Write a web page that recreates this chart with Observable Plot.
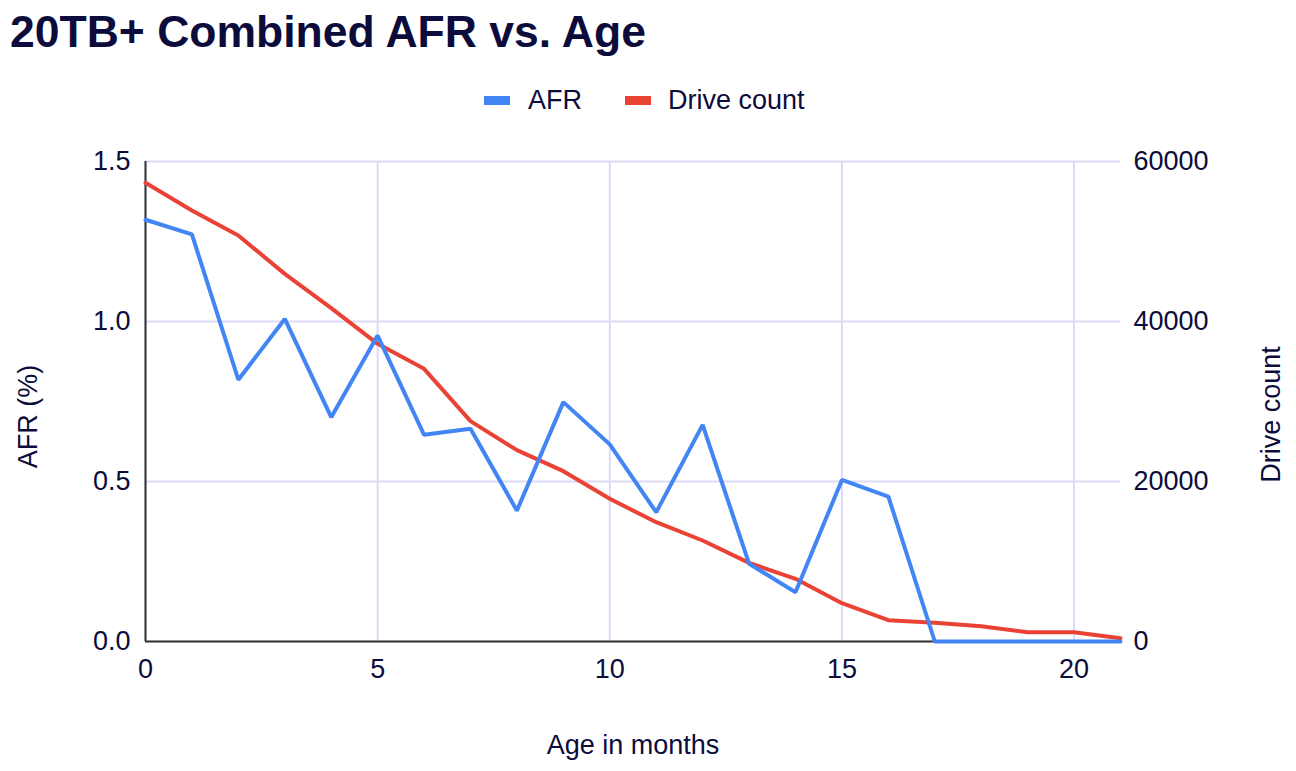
<!DOCTYPE html>
<html>
<head>
<meta charset="utf-8">
<script src="https://cdn.jsdelivr.net/npm/d3@7"></script>
<script src="https://cdn.jsdelivr.net/npm/@observablehq/plot@0.6"></script>
<style>
  html, body { margin: 0; padding: 0; background: #fff; }
  body { width: 1296px; height: 771px; position: relative; overflow: hidden;
         font-family: "Liberation Sans", Arial, sans-serif; color: #0b0c3b; }
  #title { position: absolute; left: 10px; top: 10px; font-size: 44.5px; line-height: 44px; font-weight: bold; white-space: nowrap; }
  .sw { position: absolute; width: 26px; height: 9px; top: 96px; }
  .lt { position: absolute; top: 87px; font-size: 27px; line-height: 26px; white-space: nowrap; }
  #chart { position: absolute; left: 0; top: 130px; }
</style>
</head>
<body>
<div id="title">20TB+ Combined AFR vs. Age</div>
<div class="sw" style="left:484px;background:#4285F4"></div>
<div class="lt" style="left:528px">AFR</div>
<div class="sw" style="left:625px;background:#EA4335"></div>
<div class="lt" style="left:668px">Drive count</div>
<div id="chart"></div>
<script>
const ages = [0,1,2,3,4,5,6,7,8,9,10,11,12,13,14,15,16,17,18,19,20,21];
const afr = [1.318,1.272,0.818,1.008,0.701,0.956,0.646,0.665,0.409,0.748,0.616,0.404,0.677,0.243,0.154,0.505,0.453,0,0,0,0,0];
const driveCount = [57333,53875,50750,45958,41667,37208,34083,27542,23917,21292,17833,14917,12625,9833,7833,4792,2667,2333,1917,1167,1167,417];
const xTicks = [0,5,10,15,20];
const yTicks = [0,0.5,1.0,1.5];
const countPerAfr = 40000; // right axis: 60000 at AFR 1.5

const data = ages.map((a,i) => ({age: a, afr: afr[i], count: driveCount[i]}));
const gridColor = "#dcdaf7";

const chart = Plot.plot({
  width: 1296,
  height: 641,
  marginLeft: 145,
  marginRight: 176,
  marginTop: 31,
  marginBottom: 130,
  style: {fontFamily: "'Liberation Sans', Arial, sans-serif", fontSize: "27px", color: "#0b0c3b", background: "#fff"},
  x: {domain: [0, 21]},
  y: {domain: [0, 1.5]},
  marks: [
    Plot.gridX(xTicks, {stroke: gridColor, strokeOpacity: 1, strokeWidth: 2}),
    Plot.gridY(yTicks, {stroke: gridColor, strokeOpacity: 1, strokeWidth: 2}),
    Plot.axisX({ticks: xTicks, tickSize: 0, tickPadding: 17, label: null, tickFormat: d => String(d)}),
    Plot.axisY({ticks: yTicks, tickSize: 0, tickPadding: 15, label: null, tickFormat: d3.format(".1f")}),
    Plot.axisY({anchor: "right", ticks: yTicks, tickSize: 0, tickPadding: 13, label: null, tickFormat: d => String(Math.round(d * countPerAfr))}),
    Plot.ruleX([0], {stroke: "#333", strokeWidth: 2}),
    Plot.ruleY([0], {stroke: "#333", strokeWidth: 2}),
    Plot.line(data, {x: "age", y: d => d.count / countPerAfr, stroke: "#EA4335", strokeWidth: 4, strokeLinejoin: "miter"}),
    Plot.line(data, {x: "age", y: "afr", stroke: "#4285F4", strokeWidth: 4, strokeLinejoin: "miter"}),
    Plot.text(["Age in months"], {frameAnchor: "bottom", dy: 104, text: d => d, fontSize: 27, fill: "#0b0c3b", lineAnchor: "middle", textAnchor: "middle"}),
    Plot.text(["AFR (%)"], {frameAnchor: "left", dx: -117, dy: 15, rotate: -90, text: d => d, fontSize: 27, fill: "#0b0c3b", lineAnchor: "middle", textAnchor: "middle"}),
    Plot.text(["Drive count"], {frameAnchor: "right", dx: 151, dy: 13, rotate: -90, text: d => d, fontSize: 27, fill: "#0b0c3b", lineAnchor: "middle", textAnchor: "middle"})
  ]
});
document.getElementById("chart").appendChild(chart);
</script>
</body>
</html>
